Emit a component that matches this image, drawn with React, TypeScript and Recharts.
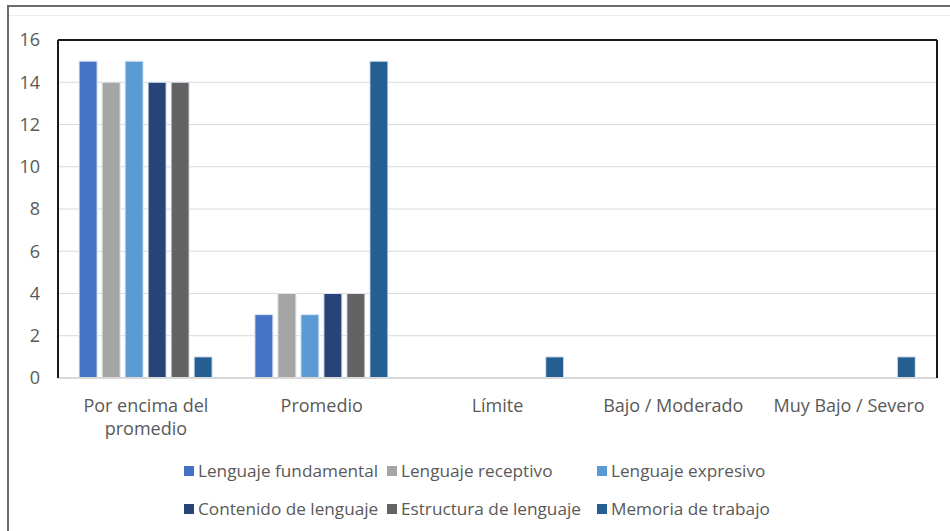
import React from 'react';
import { BarChart, Bar, XAxis, YAxis, CartesianGrid, Legend, Text } from 'recharts';

const categories = ['Por encima del promedio', 'Promedio', 'Límite', 'Bajo / Moderado', 'Muy Bajo / Severo'];

const fundamental = [15, 3, 0, 0, 0];
const receptivo = [14, 4, 0, 0, 0];
const expresivo = [15, 3, 0, 0, 0];
const contenido = [14, 4, 0, 0, 0];
const estructura = [14, 4, 0, 0, 0];
const memoria = [1, 15, 1, 0, 1];

const yTicks = [0, 2, 4, 6, 8, 10, 12, 14, 16];

const series = [
  { key: 'fundamental', name: 'Lenguaje fundamental', color: '#4472C4', values: fundamental },
  { key: 'receptivo', name: 'Lenguaje receptivo', color: '#A5A5A5', values: receptivo },
  { key: 'expresivo', name: 'Lenguaje expresivo', color: '#5B9BD5', values: expresivo },
  { key: 'contenido', name: 'Contenido de lenguaje', color: '#264478', values: contenido },
  { key: 'estructura', name: 'Estructura de lenguaje', color: '#636363', values: estructura },
  { key: 'memoria', name: 'Memoria de trabajo', color: '#255E91', values: memoria },
];

const data = categories.map((c, i) => {
  const row: Record<string, string | number> = { category: c };
  series.forEach((s) => {
    row[s.key] = s.values[i];
  });
  return row;
});

const FONT = '"Open Sans", sans-serif';
const TEXT_COLOR = '#595959';
const FS = 18;

const CategoryTick = (props: any) => {
  const { x, y, payload } = props;
  return (
    <Text
      x={x}
      y={y}
      width={160}
      textAnchor="middle"
      verticalAnchor="start"
      fill={TEXT_COLOR}
      fontSize={FS}
      fontFamily={FONT}
      lineHeight={23}
    >
      {payload.value}
    </Text>
  );
};

// legend is a 3-column grid in the reference
const colLeft = [0, 203, 413];

const LegendGrid = () => (
  <div style={{ position: 'relative', width: 620, height: 60, fontFamily: FONT, fontSize: 17.2, color: TEXT_COLOR }}>
    {series.map((s, i) => (
      <div
        key={s.key}
        style={{
          position: 'absolute',
          left: colLeft[i % 3],
          top: Math.floor(i / 3) * 38,
          display: 'flex',
          alignItems: 'center',
          whiteSpace: 'nowrap',
          lineHeight: '22px',
        }}
      >
        <span style={{ display: 'inline-block', width: 10, height: 10, background: s.color, marginRight: 4 }} />
        {s.name}
      </div>
    ))}
  </div>
);

export default function App() {
  return (
    <div style={{ position: 'absolute', left: 0, top: 0, width: 950, height: 531, background: '#fff' }}>
      <div style={{ position: 'absolute', left: 7, top: 5, width: 943, height: 526, borderTop: '2px solid #6b6b6b', borderLeft: '2px solid #6b6b6b' }} />
      <div style={{ position: 'absolute', left: 9, top: 15, width: 941, height: 1, background: '#EDEDED' }} />
      <BarChart
        width={950}
        height={531}
        data={data}
        margin={{ top: 39, right: 12, left: 0, bottom: 0 }}
        barCategoryGap="12%"
        barGap={5}
        style={{ position: 'absolute', left: 0, top: 0 }}
      >
        <CartesianGrid vertical={false} stroke="#D9D9D9" yAxisId="left" xAxisId="bottom" />
        <XAxis
          dataKey="category"
          xAxisId="bottom"
          tick={<CategoryTick />}
          tickLine={false}
          axisLine={{ stroke: '#D9D9D9', strokeWidth: 2 }}
          tickMargin={15}
          interval={0}
          height={93}
        />
        <XAxis xAxisId="top" orientation="top" dataKey="category" tick={false} tickLine={false} axisLine={{ stroke: '#1a1a1a', strokeWidth: 2 }} height={1} />
        <YAxis
          yAxisId="left"
          domain={[0, 16]}
          ticks={yTicks}
          tickLine={false}
          axisLine={{ stroke: '#1a1a1a', strokeWidth: 2 }}
          tick={{ fill: TEXT_COLOR, fontSize: FS, fontFamily: FONT }}
          tickMargin={12}
          width={58}
        />
        <YAxis yAxisId="right" orientation="right" domain={[0, 16]} tick={false} tickLine={false} axisLine={{ stroke: '#1a1a1a', strokeWidth: 2 }} width={1} />
        {series.map((s) => (
          <Bar
            key={s.key}
            dataKey={s.key}
            name={s.name}
            fill={s.color}
            stroke="#DCE6F2"
            strokeWidth={1}
            xAxisId="bottom"
            yAxisId="left"
            isAnimationActive={false}
          />
        ))}
        <Legend
          content={<LegendGrid />}
          wrapperStyle={{ position: 'absolute', left: 184, top: 460, width: 620, height: 60 }}
        />
      </BarChart>
    </div>
  );
}
